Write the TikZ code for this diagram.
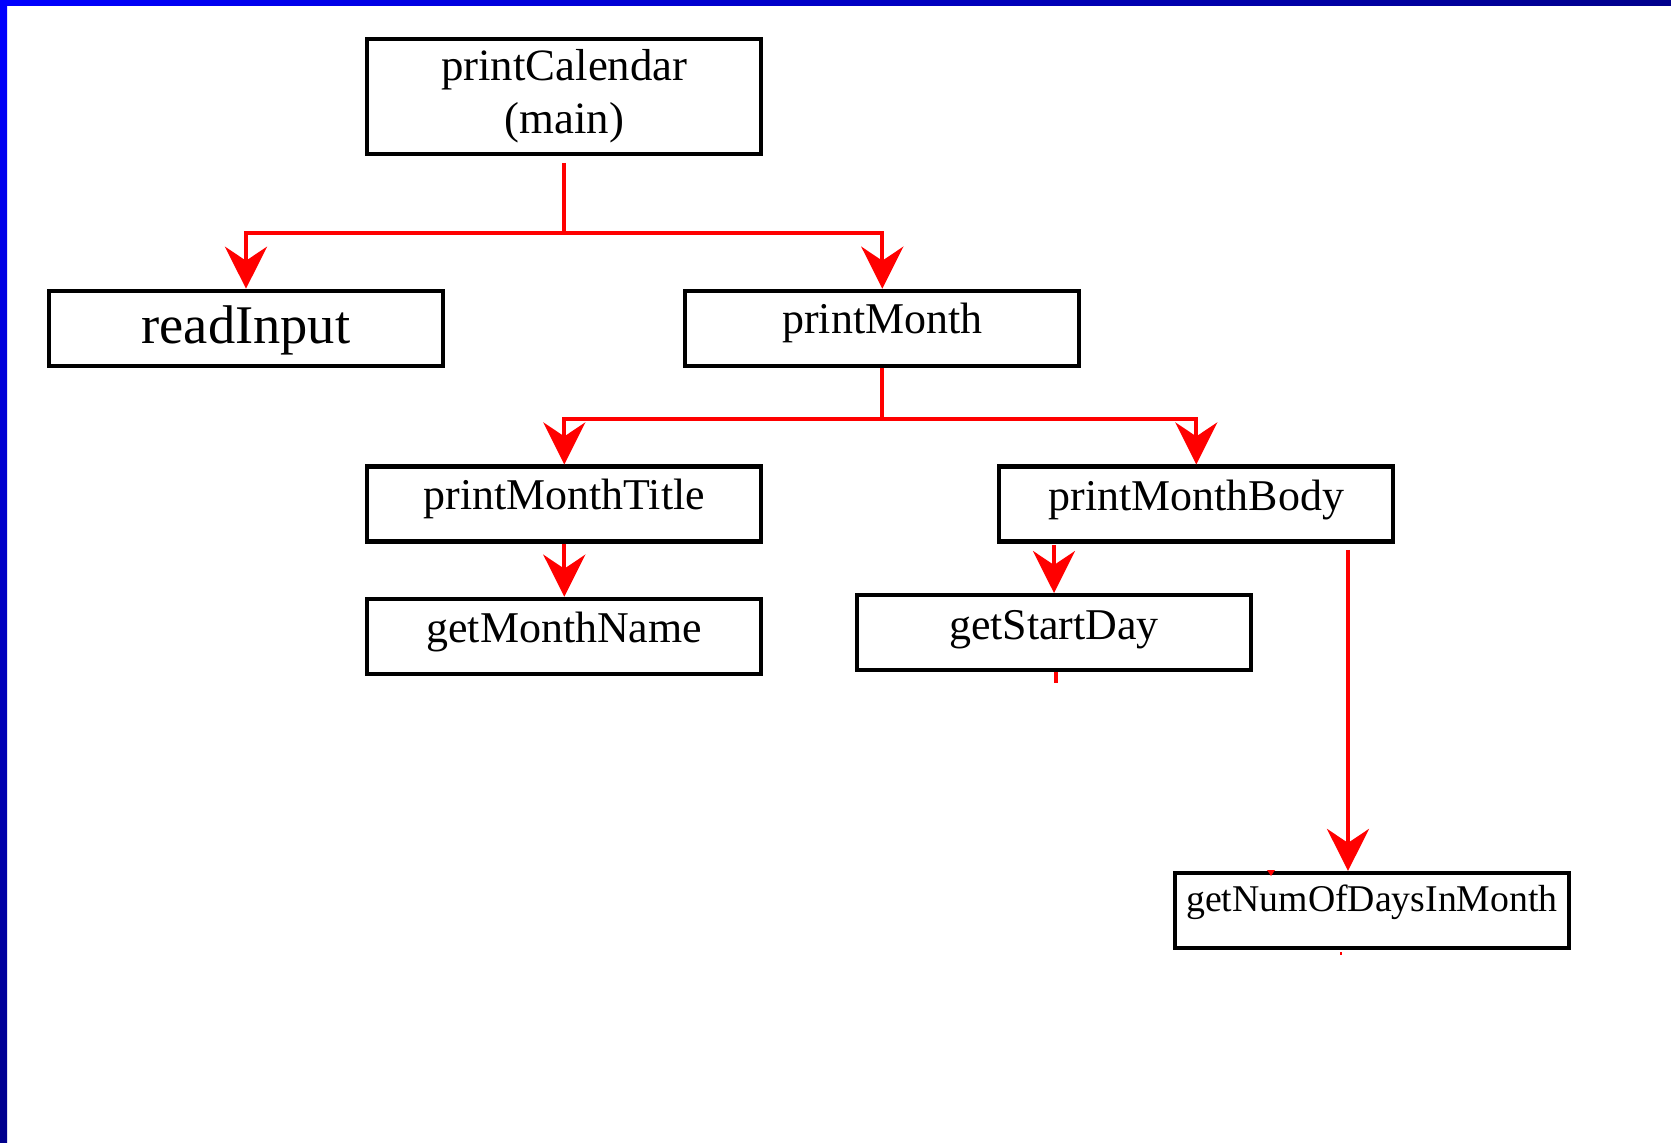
\documentclass[tikz,border=0pt]{standalone}
\usepackage{fontspec}
\setmainfont{Liberation Serif}
\usetikzlibrary{arrows.meta}
\definecolor{ffqqqq}{rgb}{1,0,0}
\definecolor{qqqqff}{rgb}{0,0,1}
\definecolor{qqqqcc}{rgb}{0,0,0.55}
\tikzset{
  box/.style={draw=black,line width=2.4pt,minimum width=7.88cm,minimum height=1.5cm,inner sep=0pt,font=\fontsize{25}{30}\selectfont},
  lift/.style={text height=20pt,text depth=#1},
  lift/.default=14.3pt,
  link/.style={color=ffqqqq,line width=2.3pt}
}
\begin{document}
\begin{tikzpicture}[line cap=butt,line join=miter,>={Stealth[length=0.84cm,width=0.84cm,inset=0.28cm]},x=0.02cm,y=-0.02cm]
		\useasboundingbox (0,0) rectangle (1671,1143);
		% frame
		\shade[left color=qqqqff,right color=qqqqcc] (0,0) rectangle (1671,5);
		\shade[top color=qqqqff,bottom color=qqqqcc] (0,0) rectangle (7,1143);
		% boxes
		\node[box,align=center,minimum height=2.3cm,font=\fontsize{25.5}{30}\selectfont] (cal) at (564.3,96.3) {printCalendar\\(main)};
		\node[box,lift=3pt,font=\fontsize{31}{36}\selectfont] (read) at (246,328.3) {readInput};
		\node[box,lift] (month) at (882.3,328.3) {printMonth};
		\node[box,lift] (title) at (564.3,504) {printMonthTitle};
		\node[box,lift=12.7pt] (body) at (1196.3,504) {printMonthBody};
		\node[box,lift=13pt] (mname) at (564.3,636.3) {getMonthName};
		\node[box,lift=12pt] (start) at (1054,632.6) {getStartDay};
		\node[box,lift=18.7pt,font=\fontsize{21.5}{25}\selectfont] (numdays) at (1372,910.5) {getNumOfDaysInMonth};
		% calls
		\coordinate (j1) at (564.3,233.4);
		\coordinate (j2) at (882.3,418.8);
		\coordinate (n1) at ([xshift=-0.48cm]numdays.north);
		\draw[link,shorten <=4pt] (cal) -- (j1);
		\draw[link,->] (j1) -| (read);
		\draw[link,->] (j1) -| (month);
		\draw[link] (month) -- (j2);
		\draw[link,->] (j2) -| (title);
		\draw[link,->] (j2) -| (body);
		\draw[link,->] (title) -- (mname);
		\draw[link,->,shorten <=1pt] (body.south -| start.north) -- (start);
		\draw[link,->,shorten <=3.5pt] (body.south -| n1) -- (n1);
		\draw[link] ([xshift=0.04cm]start.south) -- ++(0,11);
		\fill[ffqqqq] (1267,870) -- (1275,870) -- (1271,876) -- cycle;
		\fill[ffqqqq] (1339.5,951.5) rectangle (1342,955);
\end{tikzpicture}
\end{document}
